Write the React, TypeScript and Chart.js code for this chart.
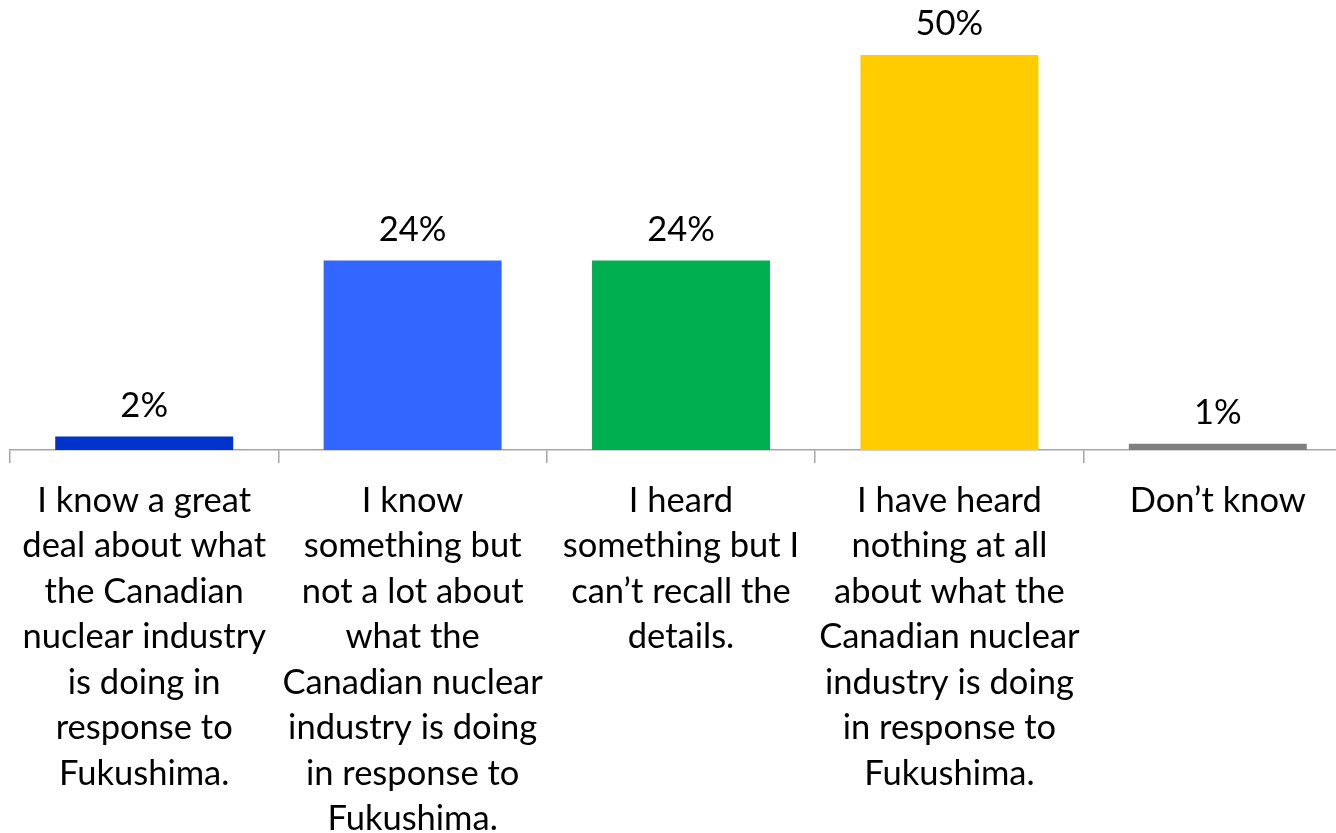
import React, { useEffect, useRef } from "react";
import { Chart, registerables } from "chart.js";

Chart.register(...registerables);

const categories: string[][] = [
  ["I know a great", "deal about what", "the Canadian", "nuclear industry", "is doing in", "response to", "Fukushima."],
  ["I know", "something but", "not a lot about", "what the", "Canadian nuclear", "industry is doing", "in response to", "Fukushima."],
  ["I heard", "something but I", "can’t recall the", "details."],
  ["I have heard", "nothing at all", "about what the", "Canadian nuclear", "industry is doing", "in response to", "Fukushima."],
  ["Don’t know"],
];
const values: number[] = [1.7, 24, 24, 50, 0.8];
const valueLabels: string[] = ["2%", "24%", "24%", "50%", "1%"];
const barColors: string[] = ["#0033CC", "#3366FF", "#00B050", "#FFCC00", "#808080"];

const FONT_FAMILY = "Lato, 'Open Sans', sans-serif";
const FONT_SIZE = 34.5;

const valueLabelPlugin = {
  id: "valueLabels",
  afterDatasetsDraw(chart: any) {
    const ctx = chart.ctx;
    const meta = chart.getDatasetMeta(0);
    ctx.save();
    ctx.font = `${FONT_SIZE}px ${FONT_FAMILY}`;
    ctx.fillStyle = "#000000";
    ctx.textAlign = "center";
    ctx.textBaseline = "middle";
    meta.data.forEach((bar: any, i: number) => {
      ctx.fillText(valueLabels[i], bar.x, bar.y - 31);
    });
    ctx.restore();
  },
};

export default function App() {
  const canvasRef = useRef<HTMLCanvasElement | null>(null);

  useEffect(() => {
    document.body.style.margin = "0";
    const canvas = canvasRef.current!;
    const chart = new Chart(canvas, {
      type: "bar",
      data: {
        labels: categories,
        datasets: [
          {
            data: values,
            backgroundColor: barColors,
            borderWidth: 0,
            categoryPercentage: 1,
            barPercentage: 0.663,
          },
        ],
      },
      options: {
        responsive: false,
        animation: false,
        devicePixelRatio: 1,
        layout: { padding: { top: 55, left: 10, right: 10, bottom: 0 } },
        plugins: {
          legend: { display: false },
          tooltip: { enabled: false },
        },
        scales: {
          y: { display: false, min: 0, max: 50 },
          x: {
            afterFit(scale: any) {
              scale.height = 383;
            },
            grid: {
              display: true,
              drawOnChartArea: false,
              drawTicks: true,
              tickLength: 13,
              color: "#A6A6A6",
              lineWidth: 1.5,
            },
            border: { display: true, color: "#A6A6A6", width: 1.5 },
            ticks: {
              color: "#000000",
              padding: 15,
              maxRotation: 0,
              autoSkip: false,
              font: { family: FONT_FAMILY, size: FONT_SIZE, lineHeight: "45.5px" as any },
            },
          },
        },
      },
      plugins: [valueLabelPlugin],
    });
    return () => chart.destroy();
  }, []);

  return (
    <div style={{ position: "fixed", left: 0, top: 0, width: 1336, height: 833, overflow: "hidden", background: "#fff" }}>
      <canvas ref={canvasRef} width={1362} height={833} style={{ width: 1362, height: 833, display: "block" }} />
    </div>
  );
}
